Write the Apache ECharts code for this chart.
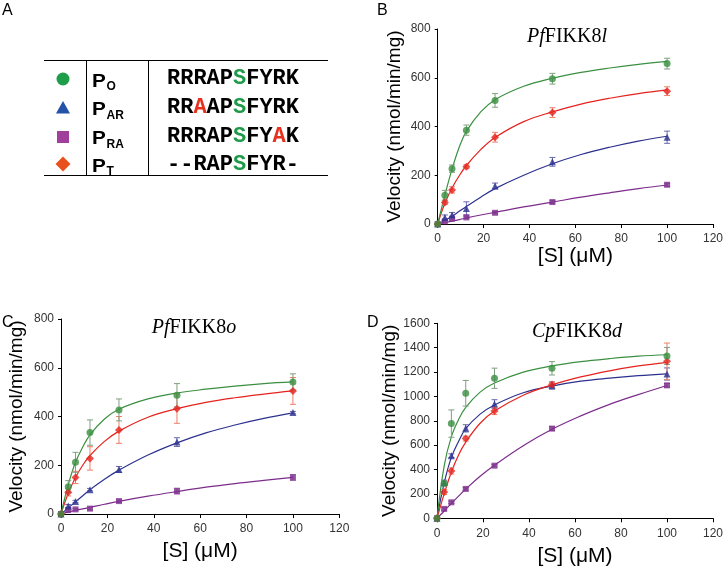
<!DOCTYPE html>
<html><head><meta charset="utf-8">
<script src="https://cdn.jsdelivr.net/npm/echarts@6/dist/echarts.min.js"></script>
<style>html,body{margin:0;padding:0;background:#fff}#c{width:726px;height:568px}</style>
</head><body><div id="c"></div><script>
// ---- data ----
const X = [0, 3.125, 6.25, 12.5, 25, 50, 100];
const XFIT = [0, 3.125, 6.25, 9.375, 12.5, 18.75, 25, 37.5, 50, 62.5, 75, 87.5, 100];

// Panel B: PfFIKK8l
const bPo = [0, 118, 227, 385, 507, 596, 658];
const bPoErr = [0, 20, 15, 21, 28, 22, 22];
const bPoFit = [0, 118, 225, 315, 380, 460, 510, 565, 598, 622, 640, 655, 667];
const bPar = [0, 27, 37, 64, 156, 255, 356];
const bParErr = [0, 10, 10, 27, 12, 18, 25];
const bParFit = [0, 15, 32, 52, 72, 110, 145, 200, 247, 285, 315, 340, 360];
const bPra = [0, 11, 22, 27, 46, 90, 161];
const bPraErr = [0, 5, 5, 5, 5, 6, 6];
const bPraFit = [0, 6, 12, 18, 25, 37, 48, 70, 90, 110, 128, 145, 160];
const bPt = [0, 88, 140, 235, 356, 457, 545];
const bPtErr = [0, 8, 13, 8, 20, 20, 18];
const bPtFit = [0, 85, 148, 198, 240, 305, 355, 420, 460, 492, 516, 535, 550];

// Panel C: PfFIKK8o
const cPo = [0, 112, 212, 334, 427, 487, 542];
const cPoErr = [0, 25, 41, 52, 45, 48, 33];
const cPoFit = [0, 120, 212, 275, 325, 390, 430, 472, 496, 512, 525, 535, 542];
const cPar = [0, 33, 51, 100, 183, 295, 416];
const cParErr = [0, 6, 5, 5, 12, 18, 5];
const cParFit = [0, 25, 50, 75, 100, 143, 180, 242, 292, 333, 365, 392, 415];
const cPra = [0, 16, 19, 22, 53, 94, 150];
const cPraErr = [0, 4, 4, 5, 5, 12, 12];
const cPraFit = [0, 8, 15, 21, 27, 40, 52, 73, 92, 110, 125, 138, 150];
const cPt = [0, 89, 150, 228, 345, 432, 505];
const cPtErr = [0, 15, 25, 48, 55, 60, 55];
const cPtFit = [0, 85, 150, 200, 240, 298, 340, 397, 432, 458, 477, 492, 505];

// Panel D: CpFIKK8d
const dPo = [0, 285, 777, 1026, 1149, 1231, 1332];
const dPoErr = [0, 20, 112, 105, 83, 55, 70];
const dPoFit = [0, 430, 670, 810, 910, 1035, 1110, 1200, 1250, 1285, 1310, 1330, 1342];
const dPar = [0, 293, 514, 738, 938, 1089, 1184];
const dParErr = [0, 20, 15, 30, 35, 30, 50];
const dParFit = [0, 290, 500, 630, 735, 855, 930, 1030, 1085, 1125, 1150, 1170, 1185];
const dPra = [0, 77, 131, 241, 432, 736, 1091];
const dPraErr = [0, 10, 10, 10, 10, 15, 15];
const dPraFit = [0, 60, 122, 182, 240, 345, 435, 595, 730, 840, 935, 1015, 1090];
const dPt = [0, 216, 388, 654, 881, 1097, 1288];
const dPtErr = [0, 20, 25, 20, 30, 20, 150];
const dPtFit = [0, 200, 380, 520, 625, 780, 880, 1010, 1095, 1160, 1210, 1250, 1280];

// Panel A table
const peptides = ['O', 'AR', 'RA', 'T'];
const sequences = [
  ['RRRAP', {g: 'S'}, 'FYRK'],
  ['RR', {r: 'A'}, 'AP', {g: 'S'}, 'FYRK'],
  ['RRRAP', {g: 'S'}, 'FY', {r: 'A'}, 'K'],
  ['--RAP', {g: 'S'}, 'FYR-']
];

// ---- styling ----
const SANS = 'Liberation Sans, Arial, sans-serif';
const SERIF = 'Liberation Serif, Times New Roman, serif';
const MONO = 'Liberation Mono, Courier New, monospace';
const COL = {
  po:  {c: '#3a9040', e: '#7f9f7f', sym: 'circle',   s: 7},
  par: {c: '#2c318e', e: '#6a6aaa', sym: 'triangle', s: 7},
  pra: {c: '#7d2c8c', e: '#a474b4', sym: 'rect',     s: 6},
  pt:  {c: '#e5231e', e: '#ee8068', sym: 'diamond',  s: 8}
};

const panels = [
  {grid: {left: 437.7, top: 29, width: 277.3, height: 195}, ymax: 800, yint: 200, yGap: 33, xGap: 22,
   title: '{i|Pf}{n|FIKK8}{i|l}', tx: 562, ty: 22,
   s: {po: [bPo, bPoErr, bPoFit], par: [bPar, bParErr, bParFit], pra: [bPra, bPraErr, bPraFit], pt: [bPt, bPtErr, bPtFit]}},
  {grid: {left: 61, top: 319, width: 278.3, height: 195}, ymax: 800, yint: 200, yGap: 35, xGap: 27,
   title: '{i|Pf}{n|FIKK8}{i|o}', tx: 189, ty: 313,
   s: {po: [cPo, cPoErr, cPoFit], par: [cPar, cParErr, cParFit], pra: [cPra, cPraErr, cPraFit], pt: [cPt, cPtErr, cPtFit]}},
  {grid: {left: 437, top: 323.3, width: 278.3, height: 195}, ymax: 1600, yint: 200, yGap: 38, xGap: 27,
   title: '{i|Cp}{n|FIKK8}{i|d}', tx: 572, ty: 317,
   s: {po: [dPo, dPoErr, dPoFit], par: [dPar, dParErr, dParFit], pra: [dPra, dPraErr, dPraFit], pt: [dPt, dPtErr, dPtFit]}}
];

const grids = [], xAxes = [], yAxes = [], series = [], titles = [];
const order = ['pra', 'par', 'pt', 'po'];
panels.forEach((p, gi) => {
  grids.push(p.grid);
  xAxes.push({
    type: 'value', gridIndex: gi, min: 0, max: 120, interval: 20,
    name: '[S] (μM)', nameLocation: 'middle', nameGap: p.xGap,
    nameTextStyle: {fontSize: 21, color: '#000', fontFamily: SANS},
    axisLine: {lineStyle: {color: '#000', width: 1}},
    axisTick: {length: 4, lineStyle: {color: '#000'}},
    axisLabel: {fontSize: 12, color: '#333', fontFamily: SANS, margin: 9},
    splitLine: {show: false}
  });
  yAxes.push({
    type: 'value', gridIndex: gi, min: 0, max: p.ymax, interval: p.yint,
    name: 'Velocity (nmol/min/mg)', nameLocation: 'middle', nameGap: p.yGap, nameRotate: 90,
    nameTextStyle: {fontSize: 19, color: '#000', fontFamily: SANS},
    axisLine: {show: true, lineStyle: {color: '#000', width: 1}},
    axisTick: {show: true, length: 3, lineStyle: {color: '#000'}},
    axisLabel: {fontSize: 12, color: '#333', fontFamily: SANS, margin: 7, formatter: v => String(v)},
    splitLine: {show: false}
  });
  titles.push({
    text: p.title, left: p.tx, top: p.ty, textAlign: 'center',
    textStyle: {fontWeight: 'normal', fontFamily: SERIF, fontSize: 20, rich: {
      i: {fontFamily: SERIF, fontStyle: 'italic', fontWeight: 'normal', fontSize: 20, color: '#000'},
      n: {fontFamily: SERIF, fontWeight: 'normal', fontSize: 20, color: '#000'}
    }}
  });
  order.forEach(k => {
    const [vals, errs, fit] = p.s[k];
    const st = COL[k];
    series.push({
      type: 'line', xAxisIndex: gi, yAxisIndex: gi, symbol: 'none', smooth: 0.4,
      data: XFIT.map((x, i) => [x, fit[i]]), lineStyle: {color: st.c, width: 1.2}, z: 2, silent: true
    });
    series.push({
      type: 'custom', xAxisIndex: gi, yAxisIndex: gi, silent: true, z: 3,
      data: X.map((x, i) => [x, vals[i] - errs[i], vals[i] + errs[i]]).filter((d, i) => errs[i] > 0),
      encode: {x: 0, y: [1, 2]},
      renderItem: (params, api) => {
        const x = api.value(0);
        const lo = api.coord([x, api.value(1)]);
        const hi = api.coord([x, api.value(2)]);
        const w = 3, sty = {stroke: st.e, lineWidth: 1};
        return {type: 'group', children: [
          {type: 'line', shape: {x1: lo[0], y1: lo[1], x2: hi[0], y2: hi[1]}, style: sty},
          {type: 'line', shape: {x1: lo[0] - w, y1: lo[1], x2: lo[0] + w, y2: lo[1]}, style: sty},
          {type: 'line', shape: {x1: hi[0] - w, y1: hi[1], x2: hi[0] + w, y2: hi[1]}, style: sty}
        ]};
      }
    });
    series.push({
      type: 'scatter', xAxisIndex: gi, yAxisIndex: gi, symbol: st.sym, symbolSize: st.s,
      data: X.map((x, i) => [x, vals[i]]), itemStyle: {color: st.c}, z: 4, silent: true
    });
  });
});

// ---- Panel A graphic ----
const g = [];
const letter = (t, x, y) => ({type: 'text', x, y, style: {text: t, font: '16px ' + SANS, fill: '#000'}});
g.push(letter('A', 2, 3), letter('B', 377, 3), letter('C', 2, 315), letter('D', 367, 315));
const line = (x1, y1, x2, y2) => ({type: 'line', shape: {x1, y1, x2, y2}, style: {stroke: '#000', lineWidth: 1}});
g.push(line(44, 60.5, 328, 60.5), line(44, 175.5, 328, 175.5), line(86.5, 60.5, 86.5, 175.5), line(148.5, 60.5, 148.5, 175.5));
const rowY = [79, 108, 137, 164];
g.push({type: 'circle', shape: {cx: 63, cy: rowY[0], r: 6.5}, style: {fill: '#1f9e4a'}});
g.push({type: 'polygon', shape: {points: [[63, rowY[1] - 7], [70, rowY[1] + 5.5], [56, rowY[1] + 5.5]]}, style: {fill: '#2352a8'}});
g.push({type: 'rect', shape: {x: 57, y: rowY[2] - 6, width: 12, height: 12}, style: {fill: '#a1409c'}});
g.push({type: 'polygon', shape: {points: [[63, rowY[3] - 7.5], [70.5, rowY[3]], [63, rowY[3] + 7.5], [55.5, rowY[3]]]}, style: {fill: '#e8501e'}});
const pBase = [88, 116.5, 145.5, 173];
peptides.forEach((sub, i) => {
  g.push({type: 'text', x: 92, y: pBase[i] + 3, scaleX: 1.15, style: {text: 'P', font: 'bold 18px ' + SANS, fill: '#000', textVerticalAlign: 'bottom'}});
  g.push({type: 'text', x: 106.5, y: pBase[i] + 5, style: {text: sub, font: 'bold 12px ' + SANS, fill: '#000', textVerticalAlign: 'bottom'}});
});
const seqBase = [86, 115, 144, 172];
sequences.forEach((parts, i) => {
  const txt = parts.map(p => typeof p === 'string' ? '{k|' + p + '}' : (p.g ? '{g|' + p.g + '}' : '{r|' + p.r + '}')).join('');
  g.push({type: 'text', x: 167, y: seqBase[i] + 3, style: {
    text: txt, textVerticalAlign: 'bottom',
    font: 'bold 22px ' + MONO,
    rich: {
      k: {fontFamily: MONO, fontWeight: 'bold', fontSize: 22, fill: '#000', color: '#000'},
      g: {fontFamily: MONO, fontWeight: 'bold', fontSize: 22, fill: '#1e9a48', color: '#1e9a48'},
      r: {fontFamily: MONO, fontWeight: 'bold', fontSize: 22, fill: '#e8301e', color: '#e8301e'}
    }
  }});
});

const chart = echarts.init(document.getElementById('c'), null, {renderer: 'canvas'});
chart.setOption({
  backgroundColor: '#fff', animation: false,
  title: titles, grid: grids, xAxis: xAxes, yAxis: yAxes, series, graphic: {elements: g}
});
</script></body></html>
